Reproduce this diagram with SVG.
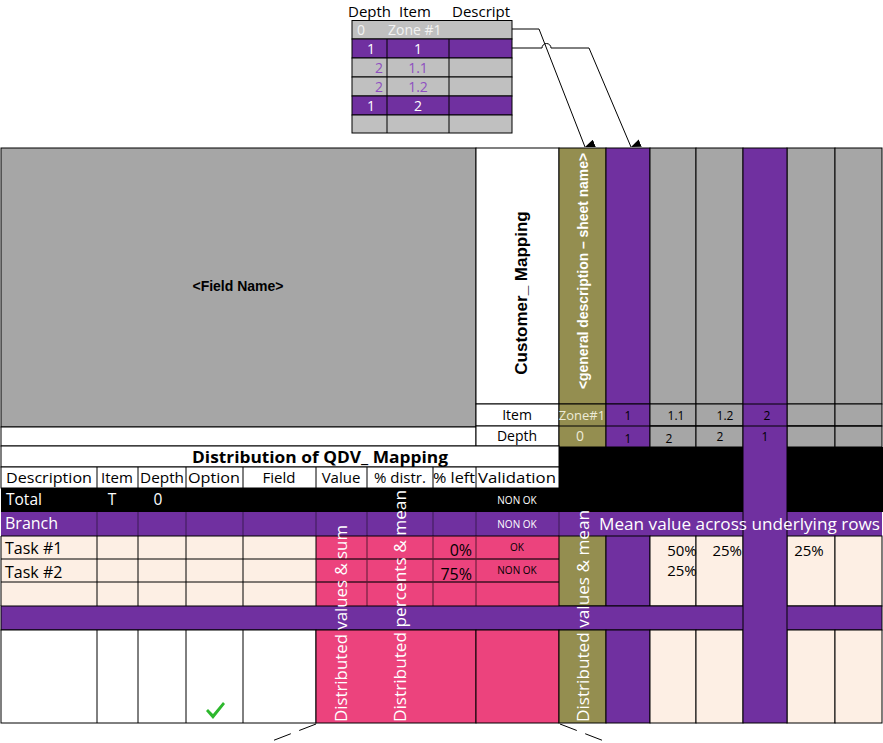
<svg xmlns="http://www.w3.org/2000/svg" width="883" height="743" viewBox="0 0 883 743">
<defs>
<style>
.t{font-family:"Open Sans","Noto Sans","DejaVu Sans",sans-serif;}
.a{font-family:"Liberation Sans",Arial,sans-serif;font-weight:bold;}
.bd{stroke:#000;stroke-width:1;}
.gy{fill:#A6A6A6;}
.lg{fill:#C0C0C0;}
.pu{fill:#7030A0;}
.ol{fill:#948E50;}
.pk{fill:#EC437D;}
.pc{fill:#FDEFE4;}
.wh{fill:#FFFFFF;}
.bk{fill:#000;}
.w{fill:#FFFFFF;}
.k{fill:#000;}
.v{fill:#8E4FC0;}
.ln{stroke:#000;stroke-width:1;fill:none;}
.dv{stroke:#3a1a55;stroke-width:1;}
.pdv{stroke:#5a1b35;stroke-width:1;}
</style>
<marker id="ah" markerWidth="8" markerHeight="10" refX="4" refY="10" orient="auto-start-reverse" markerUnits="userSpaceOnUse" viewBox="0 0 8 10">
<path d="M0,0 L8,0 L4,10 Z" fill="#000"/>
</marker>
</defs>
<rect width="883" height="743" fill="#fff"/>

<!-- Top small table -->
<g id="mini-table">
<text class="t k" x="348" y="17" font-size="15">Depth</text>
<text class="t k" x="399" y="17" font-size="15">Item</text>
<text class="t k" x="452" y="17" font-size="15">Descript</text>
<rect class="lg bd" x="352" y="20.5" width="160" height="18.5"/>
<rect class="pu bd" x="352" y="39" width="160" height="19"/>
<rect class="lg bd" x="352" y="58" width="160" height="19"/>
<rect class="lg bd" x="352" y="77" width="160" height="19"/>
<rect class="pu bd" x="352" y="96" width="160" height="19"/>
<rect class="lg bd" x="352" y="115" width="160" height="18"/>
<path class="ln" d="M387,39 V133 M449,39 V133"/>
<text class="t" fill="#F2F2F2" x="357" y="35" font-size="14">0</text>
<text class="t" fill="#F2F2F2" x="388" y="35" font-size="14">Zone #1</text>
<text class="t w" x="371" y="54" font-size="14" text-anchor="middle">1</text>
<text class="t w" x="418" y="54" font-size="14" text-anchor="middle">1</text>
<text class="t v" x="383" y="73" font-size="14" text-anchor="end">2</text>
<text class="t v" x="418" y="73" font-size="14" text-anchor="middle">1.1</text>
<text class="t v" x="383" y="92" font-size="14" text-anchor="end">2</text>
<text class="t v" x="418" y="92" font-size="14" text-anchor="middle">1.2</text>
<text class="t w" x="371" y="111" font-size="14" text-anchor="middle">1</text>
<text class="t w" x="418" y="111" font-size="14" text-anchor="middle">2</text>
</g>

<!-- Field name block -->
<g id="field-name">
<rect class="gy bd" x="1" y="148" width="475" height="279"/>
<text class="a k" x="238" y="291" font-size="14" text-anchor="middle">&lt;Field Name&gt;</text>
<rect class="wh bd" x="1" y="427" width="475" height="19"/>
</g>

<g id="customer-mapping">
<rect class="wh bd" x="476" y="148" width="83" height="256"/>
<text class="a k" font-size="17" text-anchor="middle" transform="translate(527,293) rotate(-90)">Customer_ Mapping</text>
</g>

<!-- right header columns -->
<g id="header-columns">
<rect class="ol bd" x="559" y="148" width="47" height="256"/>
<text class="a w" font-size="14" text-anchor="middle" transform="translate(588,271) rotate(-90)" textLength="236" lengthAdjust="spacingAndGlyphs">&lt;general description – sheet name&gt;</text>
<rect class="pu bd" x="606" y="148" width="44" height="256"/>
<rect class="gy bd" x="650" y="148" width="46" height="256"/>
<rect class="gy bd" x="696" y="148" width="47" height="256"/>
<rect class="gy bd" x="787" y="148" width="48" height="256"/>
<rect class="gy bd" x="835" y="148" width="47" height="256"/>
</g>

<!-- Item / Depth rows -->
<g id="item-depth">
<rect class="wh bd" x="476" y="404" width="83" height="22"/>
<rect class="wh bd" x="476" y="426" width="83" height="20"/>
<rect class="ol bd" x="559" y="404" width="47" height="43"/>
<rect class="pu bd" x="606" y="404" width="44" height="43"/>
<rect class="gy bd" x="650" y="404" width="46" height="22"/>
<rect class="gy bd" x="650" y="426" width="46" height="21"/>
<rect class="gy bd" x="696" y="404" width="47" height="22"/>
<rect class="gy bd" x="696" y="426" width="47" height="21"/>
<rect class="gy bd" x="787" y="404" width="48" height="22"/>
<rect class="gy bd" x="787" y="426" width="48" height="21"/>
<rect class="gy bd" x="835" y="404" width="47" height="22"/>
<rect class="gy bd" x="835" y="426" width="47" height="21"/>
<path class="ln" d="M559,426 H882"/>
<text class="t k" x="517" y="420" font-size="14" text-anchor="middle">Item</text>
<text class="t k" x="517" y="441" font-size="14" text-anchor="middle">Depth</text>
<text class="t" fill="#EDEBD8" x="582" y="420" font-size="13" text-anchor="middle">Zone#1</text>
<text class="t" fill="#EDEBD8" x="580" y="441" font-size="14" text-anchor="middle">0</text>
<text class="t k" x="628" y="420" font-size="12" text-anchor="middle">1</text>
<text class="t k" x="628" y="443" font-size="12" text-anchor="middle">1</text>
<text class="t k" x="676" y="420" font-size="12" text-anchor="middle">1.1</text>
<text class="t k" x="669" y="443" font-size="12" text-anchor="middle">2</text>
<text class="t k" x="725" y="420" font-size="12" text-anchor="middle">1.2</text>
<text class="t k" x="720" y="441" font-size="12" text-anchor="middle">2</text>
</g>

<!-- black band right -->
<rect id="black-band" class="bk" x="559" y="447" width="324" height="65"/>

<!-- Title and header row -->
<g id="title-row">
<rect class="wh bd" x="1" y="446" width="558" height="21"/>
<text class="t k" x="320" y="463" font-size="16.5" font-weight="bold" text-anchor="middle" textLength="256" lengthAdjust="spacingAndGlyphs">Distribution of QDV_ Mapping</text>
</g>
<g id="header-row">
<rect class="wh bd" x="1" y="467" width="558" height="21"/>
<path class="ln" stroke="#444" d="M97,467 V488 M138,467 V488 M186,467 V488 M243,467 V488 M316,467 V488 M367,467 V488 M433,467 V488 M476,467 V488"/>
<g class="t k" font-size="15" text-anchor="middle">
<text x="49" y="483" textLength="86" lengthAdjust="spacingAndGlyphs">Description</text>
<text x="117" y="483">Item</text>
<text x="162" y="483" textLength="44" lengthAdjust="spacingAndGlyphs">Depth</text>
<text x="214" y="483" textLength="52" lengthAdjust="spacingAndGlyphs">Option</text>
<text x="279" y="483">Field</text>
<text x="341" y="483">Value</text>
<text x="400" y="483">% distr.</text>
<text x="454" y="483" textLength="42" lengthAdjust="spacingAndGlyphs">% left</text>
<text x="517" y="483" textLength="78" lengthAdjust="spacingAndGlyphs">Validation</text>
</g>
</g>

<!-- Total row -->
<g id="total-row">
<rect class="bk" x="1" y="488" width="558" height="24"/>
<text class="t w" x="6" y="505" font-size="15.5">Total</text>
<text class="t w" x="112" y="505" font-size="15.5" text-anchor="middle">T</text>
<text class="t w" x="158" y="505" font-size="15.5" text-anchor="middle">0</text>
<text class="t w" x="517" y="504" font-size="10" text-anchor="middle">NON OK</text>
</g>

<!-- Branch row -->
<g id="branch-row">
<rect class="pu" x="1" y="512" width="881" height="24"/>
<path class="dv" d="M97,512 V536 M138,512 V536 M186,512 V536 M243,512 V536 M316,512 V536 M367,512 V536 M433,512 V536 M476,512 V536 M559,512 V536"/>
<text class="t w" x="5" y="529" font-size="16">Branch</text>
<text class="t w" x="517" y="528" font-size="10" text-anchor="middle">NON OK</text>
</g>

<!-- Task rows -->
<g id="task-rows">
<rect class="pc" x="1" y="536" width="315" height="70"/>
<rect class="pk" x="316" y="536" width="243" height="70"/>
<path class="ln" stroke="#222" d="M1,536 H559 M1,559 H559 M1,582 H559 M1,536 V606 M97,536 V606 M138,536 V606 M186,536 V606 M243,536 V606 M316,536 V606"/>
<path class="pdv" d="M367,536 V606 M433,536 V606 M476,536 V606 M316,559 H559 M316,582 H559"/>
<text class="t k" x="5" y="554" font-size="16">Task #1</text>
<text class="t k" x="5" y="578" font-size="16">Task #2</text>
<text class="t k" x="472" y="556" font-size="16" text-anchor="end">0%</text>
<text class="t k" x="472" y="580" font-size="16" text-anchor="end">75%</text>
<text class="t k" x="517" y="551" font-size="10" text-anchor="middle">OK</text>
<text class="t k" x="517" y="574" font-size="10" text-anchor="middle">NON OK</text>
<rect class="ol bd" x="559" y="536" width="47" height="70"/>
<rect class="pu bd" x="606" y="536" width="44" height="70"/>
<rect class="pc bd" x="650" y="536" width="46" height="70"/>
<rect class="pc bd" x="696" y="536" width="47" height="70"/>
<rect class="pc bd" x="787" y="536" width="48" height="70"/>
<rect class="pc bd" x="835" y="536" width="47" height="70"/>
<text class="t k" x="682" y="556" font-size="15" text-anchor="middle">50%</text>
<text class="t k" x="682" y="576" font-size="15" text-anchor="middle">25%</text>
<text class="t k" x="742" y="556" font-size="15" text-anchor="end">25%</text>
<text class="t k" x="809" y="556" font-size="15" text-anchor="middle">25%</text>
</g>

<!-- Purple band -->
<rect id="purple-band" class="pu bd" x="1" y="606" width="881" height="24"/>

<!-- Bottom row -->
<g id="bottom-row">
<rect class="wh bd" x="1" y="630" width="315" height="93"/>
<path class="ln" stroke="#222" d="M97,630 V723 M138,630 V723 M186,630 V723 M243,630 V723"/>
<rect class="pk bd" x="316" y="630" width="160" height="93"/>
<rect class="pk bd" x="476" y="630" width="83" height="93"/>
<rect class="ol bd" x="559" y="630" width="47" height="93"/>
<rect class="pu bd" x="606" y="630" width="44" height="93"/>
<rect class="pc bd" x="650" y="630" width="46" height="93"/>
<rect class="pc bd" x="696" y="630" width="47" height="93"/>
<rect class="pc bd" x="787" y="630" width="48" height="93"/>
<rect class="pc bd" x="835" y="630" width="47" height="93"/>
<path d="M208,709 L213,714 L223,702 L225,704 L213,719 L206,711 Z" fill="#2DB82D"/>
</g>

<!-- purple column through the body -->
<g id="purple-column">
<rect class="pu bd" x="743" y="148" width="44" height="575"/>
<path class="ln" d="M743,404 H787 M743,426 H787"/>
<text class="t k" x="767" y="420" font-size="12" text-anchor="middle">2</text>
<text class="t k" x="765" y="441" font-size="12" text-anchor="middle">1</text>
</g>

<!-- Overlay texts -->
<g id="overlay-text" class="t w">
<text x="599" y="530" font-size="17" textLength="281" lengthAdjust="spacingAndGlyphs">Mean value across underlying rows</text>
<text font-size="16" transform="translate(347,722) rotate(-90)" textLength="197" lengthAdjust="spacingAndGlyphs">Distributed values &amp; sum</text>
<text font-size="16" transform="translate(406,722) rotate(-90)" textLength="232" lengthAdjust="spacingAndGlyphs">Distributed percents &amp; mean</text>
<text font-size="16" transform="translate(589,722) rotate(-90)" textLength="212" lengthAdjust="spacingAndGlyphs">Distributed values &amp; mean</text>
</g>

<!-- connectors -->
<g id="connectors">
<path class="ln" d="M512,29 H539 L585,147" marker-end="url(#ah)"/>
<path class="ln" d="M512,48 H542 A4.5,4.5 0 0 1 551,48 H589 L631,147" marker-end="url(#ah)"/>
<path class="ln" stroke-dasharray="18,9" d="M316,724 L272,741"/>
<path class="ln" stroke-dasharray="18,9" d="M560,724 L604,741"/>
</g>
</svg>
